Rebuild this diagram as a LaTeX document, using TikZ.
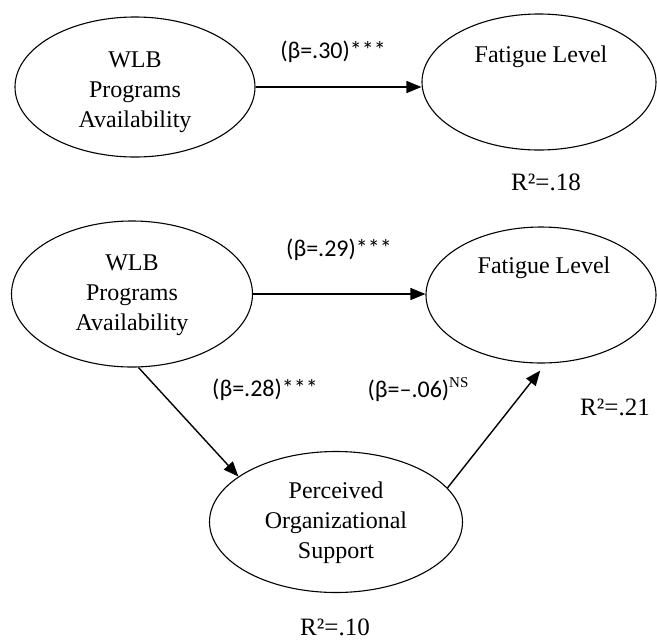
\documentclass[tikz,border=0pt]{standalone}
\usepackage{fontspec}
\setmainfont{Liberation Serif}
\newfontfamily\coeffont{Carlito}
\usetikzlibrary{shapes.geometric,arrows.meta}

\begin{document}
\begin{tikzpicture}[x=1pt,y=-1pt,
  construct/.style={draw, ellipse, line width=1.1pt, inner sep=0pt},
  nodetext/.style={align=center, font=\fontsize{24}{30}\selectfont, inner sep=0pt},
  coef/.style={font=\coeffont\fontsize{24}{28}\selectfont, inner sep=0pt},
  rsq/.style={font=\fontsize{25}{30}\selectfont, inner sep=0pt},
  link/.style={line width=1.4pt, -{Triangle[length=15pt,width=12pt]}}
]
\useasboundingbox (0,0) rectangle (657,641);

% ---- Model 1: direct effect ----
\node[construct, minimum width=240pt, minimum height=140pt] (wlbA) at (135,87) {};
\node[nodetext] (wlbAtext) at (135,92) {WLB\\Programs\\Availability};
\node[construct, minimum width=234pt, minimum height=136pt] (fatA) at (539,82) {};
\node[nodetext] (fatAtext) at (541,57) {Fatigue Level};
\draw[link] (wlbA.east) -- (wlbA.east -| fatA.west);
\node[coef] (bA) at (333,52) {(β=.30)***};
\node[rsq] (rA) at (546,182) {R²=.18};

% ---- Model 2: mediation through perceived support ----
\node[construct, minimum width=241pt, minimum height=146pt] (wlbB) at (132,294) {};
\node[nodetext] (wlbBtext) at (132,295) {WLB\\Programs\\Availability};
\node[construct, minimum width=230pt, minimum height=136pt] (fatB) at (541,295) {};
\node[nodetext] (fatBtext) at (544,268) {Fatigue Level};
\node[construct, minimum width=253pt, minimum height=141pt] (pos) at (336,522) {};
\node[nodetext] (postext) at (336,523) {Perceived\\Organizational\\Support};

\draw[link] (wlbB.east) -- (wlbB.east -| fatB.west);
\draw[link] (wlbB.-85) -- (pos.155);
\draw[link, shorten >=9pt] (pos.17) -- (fatB.-86);

\node[coef] (bB1) at (339,250) {(β=.29)***};
\node[coef] (bB2) at (265,390) {(β=.28)***};
\node[coef] (bB3) at (418,390) {(β=–.06)\raisebox{0.42em}{\rmfamily\fontsize{15}{15}\selectfont NS}};
\node[rsq] (rB1) at (615,407) {R²=.21};
\node[rsq] (rB2) at (335,627) {R²=.10};
\end{tikzpicture}
\end{document}
